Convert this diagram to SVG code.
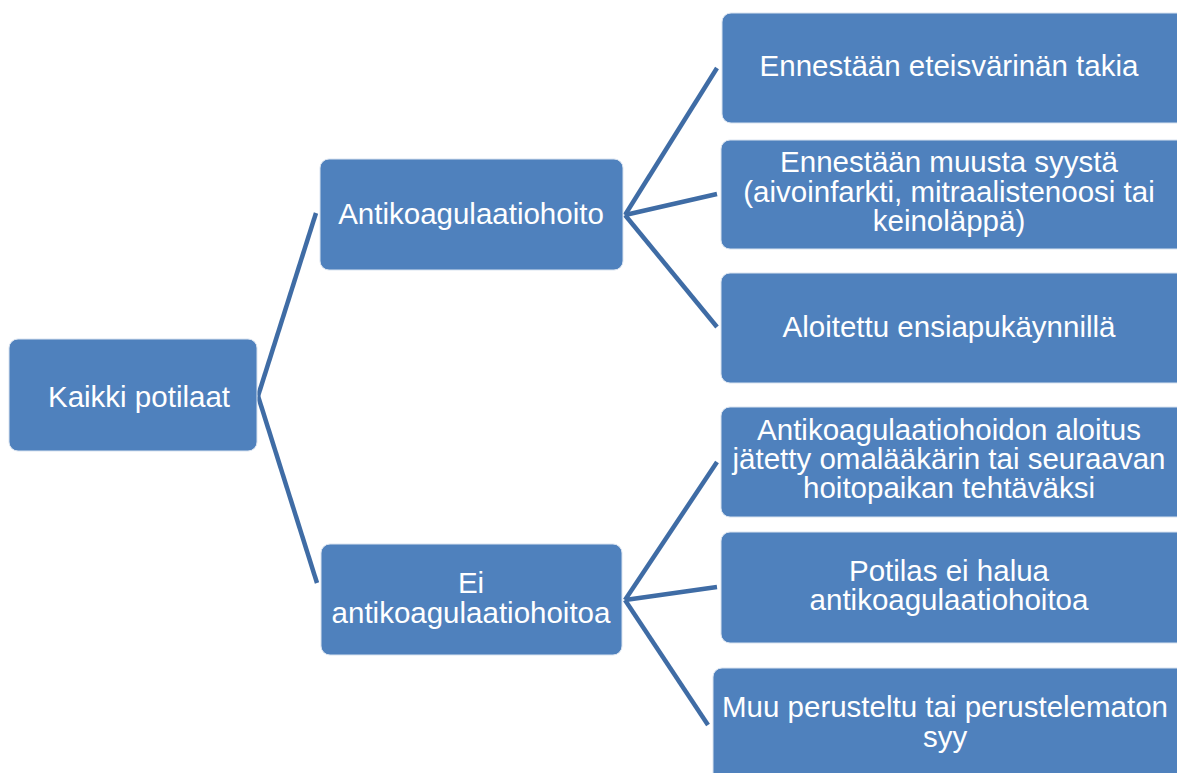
<svg xmlns="http://www.w3.org/2000/svg" width="1177" height="773" viewBox="0 0 1177 773">
<style>
.box{fill:#4F81BD;stroke:#D9E3F0;stroke-width:1}
.t{font-family:"Liberation Sans",Arial,sans-serif;font-size:29.5px;fill:#FFFFFF;text-anchor:middle}
.c{stroke:#3F6CA5;stroke-width:4.5;fill:none;stroke-linecap:butt}
</style>
<rect width="1177" height="773" fill="#FFFFFF"/>
<g id="connectors">
<line class="c" x1="258" y1="396" x2="316" y2="213"/>
<line class="c" x1="258" y1="396" x2="317" y2="583"/>
<line class="c" x1="625" y1="215" x2="717" y2="68"/>
<line class="c" x1="625" y1="215" x2="717" y2="194"/>
<line class="c" x1="625" y1="215" x2="717" y2="327"/>
<line class="c" x1="625" y1="600" x2="717" y2="462"/>
<line class="c" x1="625" y1="600" x2="717" y2="587"/>
<line class="c" x1="625" y1="600" x2="708" y2="725"/>
</g>
<g id="root">
<rect class="box" x="9" y="339" width="248" height="112" rx="9"/>
<text class="t" x="139" y="407">Kaikki potilaat</text>
</g>
<g id="antiko">
<rect class="box" x="320" y="159" width="303" height="111" rx="9"/>
<text class="t" x="471" y="224">Antikoagulaatiohoito</text>
</g>
<g id="ei-antiko">
<rect class="box" x="321" y="544" width="301" height="111" rx="9"/>
<text class="t" x="471" y="593">Ei</text>
<text class="t" x="471" y="623">antikoagulaatiohoitoa</text>
</g>
<g id="n1">
<rect class="box" x="722" y="13" width="465" height="110" rx="9"/>
<text class="t" x="949" y="76">Ennestään eteisvärinän takia</text>
</g>
<g id="n2">
<rect class="box" x="721" y="140" width="466" height="109" rx="9"/>
<text class="t" x="949" y="172">Ennestään muusta syystä</text>
<text class="t" x="949" y="202">(aivoinfarkti, mitraalistenoosi tai</text>
<text class="t" x="949" y="231">keinoläppä)</text>
</g>
<g id="n3">
<rect class="box" x="721" y="273" width="466" height="110" rx="9"/>
<text class="t" x="949" y="337">Aloitettu ensiapukäynnillä</text>
</g>
<g id="n4">
<rect class="box" x="721" y="407" width="466" height="110" rx="9"/>
<text class="t" x="949" y="440">Antikoagulaatiohoidon aloitus</text>
<text class="t" x="949" y="469">jätetty omalääkärin tai seuraavan</text>
<text class="t" x="949" y="498">hoitopaikan tehtäväksi</text>
</g>
<g id="n5">
<rect class="box" x="721" y="532" width="466" height="111" rx="9"/>
<text class="t" x="949" y="581">Potilas ei halua</text>
<text class="t" x="949" y="610">antikoagulaatiohoitoa</text>
</g>
<g id="n6">
<rect class="box" x="713" y="668" width="474" height="115" rx="9"/>
<text class="t" x="945" y="717">Muu perusteltu tai perustelematon</text>
<text class="t" x="945" y="747">syy</text>
</g>
</svg>
